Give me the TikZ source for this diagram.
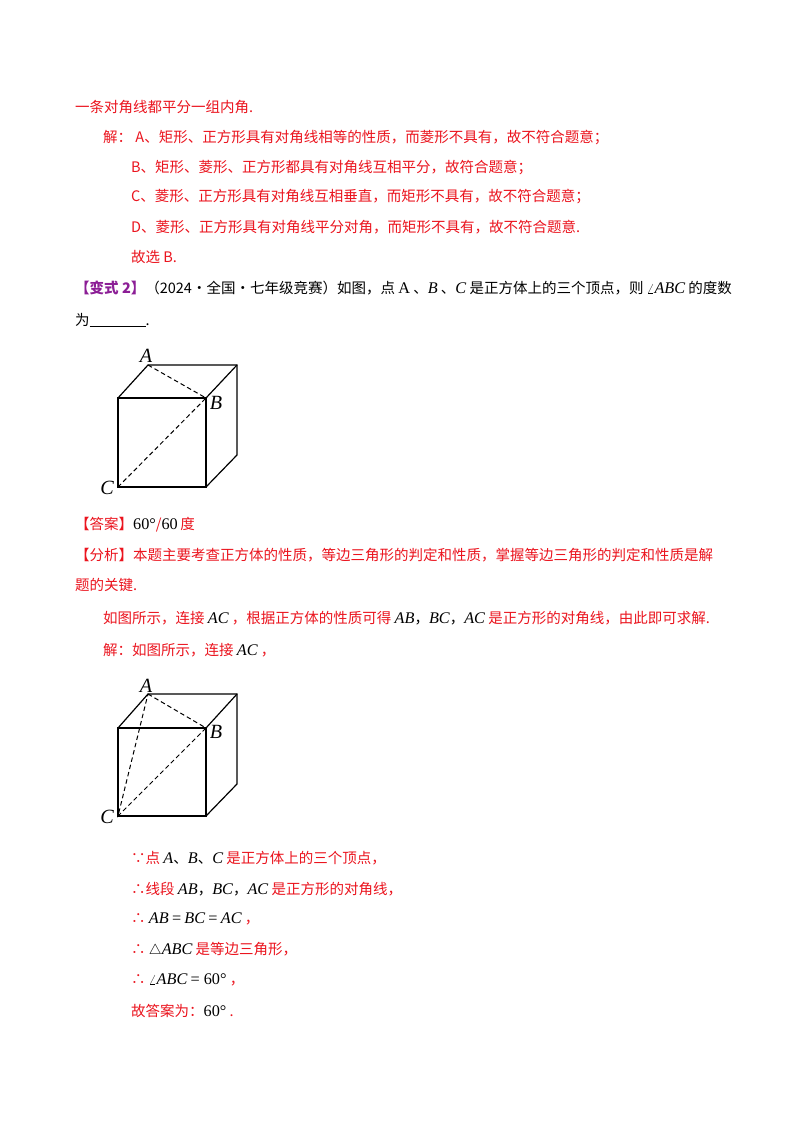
\documentclass[tikz,border=0pt]{standalone}
\usepackage{fontspec}
\setmainfont{Noto Sans CJK SC}
\newfontfamily\serf[Scale=1.12]{Liberation Serif}
\definecolor{myred}{RGB}{235,20,30}
\definecolor{mypurple}{RGB}{140,30,150}
\newcommand\mv[1]{{\serf\itshape #1}}
\newcommand\mn[1]{{\serf #1}}
\tikzset{t/.style={anchor=west,inner sep=0pt,font=\fontsize{14.5}{16}\selectfont,text=myred},
 tb/.style={t,text=black},
 edge/.style={line width=1.2pt},
 dsh/.style={line width=1pt,dash pattern=on 4.5pt off 3pt},
 lab/.style={inner sep=0pt,font=\serf\itshape\fontsize{18}{20}\selectfont}}
\begin{document}
\begin{tikzpicture}[x=1pt,y=-1pt]
\useasboundingbox[fill=white] (0,0) rectangle (800,1132);
\node[t] (l1) at (75,107) {一条对角线都平分一组内角.};
\node[t] (l2) at (103,138) {解：\ A、矩形、正方形具有对角线相等的性质，而菱形不具有，故不符合题意；};
\node[t] (l3) at (131,168) {B、矩形、菱形、正方形都具有对角线互相平分，故符合题意；};
\node[t] (l4) at (131,197) {C、菱形、正方形具有对角线互相垂直，而矩形不具有，故不符合题意；};
\node[t] (l5) at (131,227) {D、菱形、正方形具有对角线平分对角，而矩形不具有，故不符合题意.};
\node[t] (l6) at (131,257) {故选 B.};
\node[tb] (l7) at (75,288) {\textcolor{mypurple}{\bfseries 【变式 2】}（2024·全国·七年级竞赛）如图，点 \mn{A} 、\mv{B} 、\mv{C} 是正方体上的三个顶点，则 $\angle$\mv{ABC} 的度数};
\node[tb] (l8) at (75,320) {为\underline{\hspace{56pt}}.};
% cube 1
\coordinate (a1) at (148,365); \coordinate (b1) at (206,398); \coordinate (c1) at (118,487);
\draw[edge] (118,398) -- (b1) -- (206,487) -- (c1) -- cycle;
\draw[edge] (118,398) -- (a1) -- (237,365) -- (237,455) -- (206,487);
\draw[edge] (b1) -- (237,365);
\draw[dsh] (a1) -- (b1) -- (c1);
\node[lab] (A1) at (146,356) {A};
\node[lab] (B1) at (216,403) {B};
\node[lab] (C1) at (107,488) {C};
\node[t] (l9) at (75,525) {【答案】\textcolor{black}{\mn{60°}}/\textcolor{black}{\mn{60}}\,度};
\node[t] (l10) at (75,555) {【分析】本题主要考查正方体的性质，等边三角形的判定和性质，掌握等边三角形的判定和性质是解};
\node[t] (l11) at (75,585) {题的关键.};
\node[t] (l12) at (103,618) {如图所示，连接 \textcolor{black}{\mv{AC}} ，根据正方体的性质可得 \textcolor{black}{\mv{AB}，\mv{BC}，\mv{AC}} 是正方形的对角线，由此即可求解.};
\node[t] (l13) at (103,650) {解：如图所示，连接 \textcolor{black}{\mv{AC}} ，};
% cube 2
\coordinate (a2) at (148,694); \coordinate (b2) at (206,728); \coordinate (c2) at (118,816);
\draw[edge] (118,728) -- (b2) -- (206,816) -- (c2) -- cycle;
\draw[edge] (118,728) -- (a2) -- (237,694) -- (237,784) -- (206,816);
\draw[edge] (b2) -- (237,694);
\draw[dsh] (a2) -- (b2) -- (c2) -- (a2);
\node[lab] (A2) at (146,686) {A};
\node[lab] (B2) at (216,732) {B};
\node[lab] (C2) at (107,817) {C};
\node[t] (m1) at (131,858) {∵点 \textcolor{black}{\mv{A}、\mv{B}、\mv{C}} 是正方体上的三个顶点，};
\node[t] (m2) at (131,889) {∴线段 \textcolor{black}{\mv{AB}，\mv{BC}，\mv{AC}} 是正方形的对角线，};
\node[t] (m3) at (131,919) {∴ \textcolor{black}{\mv{AB} \mn{=} \mv{BC} \mn{=} \mv{AC}} ，};
\node[t] (m4) at (131,950) {∴ \textcolor{black}{$\triangle$\mv{ABC}} 是等边三角形，};
\node[t] (m5) at (131,980) {∴ \textcolor{black}{$\angle$\mv{ABC} \mn{= 60°}} ，};
\node[t] (m6) at (131,1011) {故答案为：\textcolor{black}{\mn{60°}} .};
\end{tikzpicture}
\end{document}
